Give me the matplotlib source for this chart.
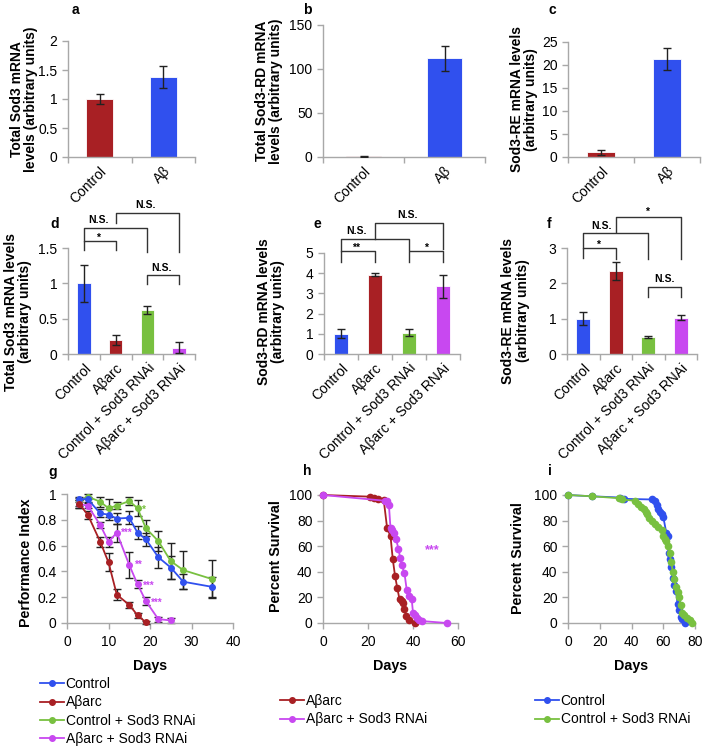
import matplotlib
matplotlib.use("Agg")
import matplotlib.pyplot as plt
from matplotlib.lines import Line2D
import numpy as np

plt.rcParams['font.family'] = ['Liberation Sans', 'DejaVu Sans']

BLUE = '#3050ee'
RED = '#a82024'
GREEN = '#78c040'
PURPLE = '#c848f0'
SPINE = '#a8a8a8'
FS = 10

# ---------------- data ----------------
cats_ab = ['Control', 'Aβ']
a_vals = [1.0, 1.38]; a_err = [0.08, 0.19]
b_vals = [1.0, 112.0]; b_err = [0.6, 14.0]
c_vals = [1.0, 21.4]; c_err = [0.5, 2.4]

cats_def = ['Control', 'Aβarc', 'Control + Sod3 RNAi', 'Aβarc + Sod3 RNAi']
d_vals = [1.0, 0.20, 0.62, 0.09]; d_err = [0.26, 0.07, 0.06, 0.08]
e_vals = [1.0, 3.92, 1.05, 3.35]; e_err = [0.22, 0.08, 0.17, 0.57]
f_vals = [1.0, 2.35, 0.48, 1.03]; f_err = [0.18, 0.25, 0.02, 0.08]

g_days = [3, 5, 8, 10, 12, 15, 17, 19, 22, 25, 28, 35]
g_ctrl = [0.96, 0.96, 0.85, 0.84, 0.81, 0.815, 0.70, 0.65, 0.51, 0.43, 0.32, 0.28]
g_ctrl_err = [0.02, 0.02, 0.03, 0.04, 0.04, 0.05, 0.05, 0.05, 0.08, 0.09, 0.06, 0.08]
g_csod = [0.94, 0.98, 0.94, 0.89, 0.91, 0.945, 0.89, 0.735, 0.635, 0.48, 0.41, 0.34]
g_csod_err = [0.03, 0.02, 0.04, 0.07, 0.03, 0.03, 0.06, 0.06, 0.08, 0.14, 0.15, 0.15]
g_abeta_days = [3, 5, 8, 10, 12, 15, 17, 19]
g_abeta = [0.92, 0.84, 0.63, 0.47, 0.22, 0.14, 0.06, 0.005]
g_abeta_err = [0.03, 0.03, 0.04, 0.07, 0.04, 0.02, 0.02, 0.01]
g_asod_days = [3, 5, 8, 10, 12, 15, 17, 19, 22, 25]
g_asod = [0.92, 0.91, 0.76, 0.63, 0.70, 0.45, 0.30, 0.17, 0.03, 0.02]
g_asod_err = [0.03, 0.02, 0.02, 0.04, 0.07, 0.10, 0.03, 0.03, 0.02, 0.02]

h_red_days = [0, 21, 22.5, 24.5, 27, 28.5, 30, 31, 32, 33, 34, 35, 35.7, 36.2, 37, 38, 41]
h_red = [100, 98.7, 98, 97, 96, 74, 68, 50, 37, 27.5, 18.5, 17.5, 16, 11, 5.5, 2, 0]
h_pur_days = [0, 27.5, 28.3, 29.3, 30, 30.7, 31.5, 32.5, 33.5, 34.3, 35, 36.2, 37.2,
              38.4, 39.4, 40, 40.8, 41.6, 42.6, 44, 55]
h_pur = [100, 95.5, 95, 92, 74, 72.5, 70.5, 65.5, 58, 51, 45, 39, 26, 21, 19, 8, 6, 4,
         2.5, 1.5, 0]

i_blue_days = [0, 15, 33, 35, 53, 55, 56, 57, 58, 59, 60, 62, 63, 63.5, 64, 65, 66, 67,
               68, 69, 70, 71, 72, 74]
i_blue = [100, 99, 98, 97, 96.5, 95, 92, 89, 87, 85, 83, 70, 68, 55, 50, 44, 35, 30, 25,
          15, 10, 5, 3, 0]
i_green_days = [0, 15, 32, 34, 42, 44, 46, 48, 49, 50, 51, 53, 55, 57, 59, 60, 61, 62, 63,
                64, 65, 66, 67, 68, 69, 70, 71, 72, 73, 75, 77, 78]
i_green = [100, 99, 97.5, 96.5, 95.5, 93, 91, 89, 87, 85, 82, 80, 77, 75, 72.5, 68, 66, 64,
           60, 55, 48, 40, 34, 28, 24, 20, 14, 8, 6, 4, 2, 0]

W, H = 704, 747
fig = plt.figure(figsize=(W / 100, H / 100), dpi=100)


def add_ax(x0, y_top, x1, y_bot):
    return fig.add_axes([x0 / W, 1 - y_bot / H, (x1 - x0) / W, (y_bot - y_top) / H])


def style(ax):
    for s in ['top', 'right']:
        ax.spines[s].set_visible(False)
    for s in ['left', 'bottom']:
        ax.spines[s].set_color(SPINE)
        ax.spines[s].set_linewidth(1.0)
    ax.tick_params(axis='both', which='both', color=SPINE, labelsize=FS, direction='out',
                   length=4, width=1.0)


def bar_panel(ax, cats, vals, errs, colors, ymax, ystep, ylabel, lab_xy, fmt=None):
    style(ax)
    x = np.arange(len(cats))
    ax.bar(x, vals, width=0.42, color=colors, edgecolor='white', linewidth=0.6, zorder=2)
    ax.errorbar(x, vals, yerr=errs, fmt='none', ecolor='#222222', elinewidth=1.0,
                capsize=3, capthick=1.0, zorder=3)
    ax.set_xlim(-0.5, len(cats) - 0.5)
    ax.set_ylim(0, ymax)
    ticks = np.arange(0, ymax + ystep / 2, ystep)
    ax.set_yticks(ticks)
    if fmt is not None:
        ax.set_yticklabels([fmt(t) for t in ticks])
    ax.set_xticks(x)
    ax.set_xticklabels(cats, rotation=45, ha='right', va='top', rotation_mode='anchor',
                       fontsize=FS)
    ax.tick_params(axis='x', which='major', length=0, pad=5)
    ax.set_xticks(np.arange(-0.5, len(cats), 1.0), minor=True)
    ax.tick_params(axis='x', which='minor', length=4)
    ax.set_ylabel(ylabel, fontsize=FS, fontweight='bold', linespacing=1.05)
    ax.yaxis.set_label_coords(*lab_xy)


def gfmt(t):
    return ('%g' % round(t, 2))


def bracket(ax, x1, x2, y1, top, y2, text, tx, ty, fs=7.5):
    ax.plot([x1, x1, x2, x2], [y1, top, top, y2], color='#333333', lw=1.0, clip_on=False,
            zorder=4)
    ax.text(tx, ty, text, ha='center', va='bottom', fontsize=fs, fontweight='bold',
            clip_on=False)


# ---------- row 1 ----------
axa = add_ax(68, 41, 195, 157)
bar_panel(axa, cats_ab, a_vals, a_err, [RED, BLUE], 2, 0.5,
          'Total Sod3 mRNA\nlevels (arbitrary units)', (-0.235, 0.5), gfmt)
axb = add_ax(323, 25, 485, 157)
bar_panel(axb, cats_ab, b_vals, b_err, [RED, BLUE], 150, 50,
          'Total Sod3-RD mRNA\nlevels (arbitrary units)', (-0.245, 0.5))
axc = add_ax(568, 42, 700, 157)
bar_panel(axc, cats_ab, c_vals, c_err, [RED, BLUE], 25, 5,
          'Sod3-RE mRNA levels\n(arbitrary units)', (-0.225, 0.5))

# ---------- row 2 ----------
cols4 = [BLUE, RED, GREEN, PURPLE]
axd = add_ax(68, 248, 195, 354)
bar_panel(axd, cats_def, d_vals, d_err, cols4, 1.5, 0.5,
          'Total Sod3 mRNA levels\n(arbitrary units)', (-0.28, 0.40), gfmt)
bracket(axd, 0, 1, 1.47, 1.60, 1.47, '*', 0.45, 1.58)
bracket(axd, 0, 2, 1.60, 1.78, 1.45, 'N.S.', 0.45, 1.83)
bracket(axd, 1, 3, 1.85, 2.0, 1.45, 'N.S.', 1.95, 2.04)
bracket(axd, 2, 3, 0.99, 1.12, 0.99, 'N.S.', 2.45, 1.15)

axe = add_ax(324, 253, 460, 354)
bar_panel(axe, cats_def, e_vals, e_err, cols4, 5, 1, 'Sod3-RD mRNA levels\n(arbitrary units)',
          (-0.285, 0.42))
bracket(axe, 0, 1, 4.55, 5.1, 4.55, '**', 0.45, 5.0)
bracket(axe, 0, 2, 5.1, 5.7, 5.15, 'N.S.', 0.45, 5.85)
bracket(axe, 1, 3, 5.7, 6.5, 5.2, 'N.S.', 1.95, 6.65)
bracket(axe, 2, 3, 4.55, 5.1, 4.55, '*', 2.5, 5.0)

axf = add_ax(567, 248, 697, 354)
bar_panel(axf, cats_def, f_vals, f_err, cols4, 3, 1, 'Sod3-RE mRNA levels\n(arbitrary units)',
          (-0.285, 0.41))
bracket(axf, 0, 1, 2.72, 3.0, 2.7, '*', 0.45, 2.95)
bracket(axf, 0, 2, 3.0, 3.42, 2.7, 'N.S.', 0.55, 3.48)
bracket(axf, 1, 3, 3.45, 3.87, 2.7, '*', 1.95, 3.88)
bracket(axf, 2, 3, 1.6, 1.9, 1.6, 'N.S.', 2.5, 1.98)


# ---------- row 3 ----------
def line_style(ax, xmax, xstep, ymax, ystep, ylabel, lab_xy, fmt=None):
    style(ax)
    ax.set_xlim(0, xmax)
    ax.set_ylim(0, ymax)
    ax.set_xticks(np.arange(0, xmax + 1e-9, xstep))
    yt = np.arange(0, ymax + ystep / 2, ystep)
    ax.set_yticks(yt)
    if fmt is not None:
        ax.set_yticklabels([fmt(t) for t in yt])
    ax.tick_params(axis='x', pad=5)
    ax.set_xlabel('Days', fontsize=10.3, fontweight='bold')
    ax.xaxis.set_label_coords(0.5, -0.28)
    ax.set_ylabel(ylabel, fontsize=10.3, fontweight='bold')
    ax.yaxis.set_label_coords(*lab_xy)


axg = add_ax(67, 494, 233, 623)
line_style(axg, 40, 10, 1, 0.2, 'Performance Index', (-0.205, 0.47), gfmt)
for dd, vv, ee, cc in [(g_days, g_csod, g_csod_err, GREEN), (g_days, g_ctrl, g_ctrl_err, BLUE),
                       (g_asod_days, g_asod, g_asod_err, PURPLE),
                       (g_abeta_days, g_abeta, g_abeta_err, RED)]:
    axg.errorbar(dd, vv, yerr=ee, fmt='none', ecolor='#222222', elinewidth=1.0, capsize=3,
                 capthick=1.0, zorder=2, clip_on=False)
    axg.plot(dd, vv, '-o', color=cc, ms=4, lw=1.3, zorder=3, clip_on=False)
for tx, ty, t in [(14.3, 0.70, '***'), (17.2, 0.45, '**'), (19.7, 0.29, '***'),
                  (21.6, 0.16, '***')]:
    axg.text(tx, ty, t, color=PURPLE, fontsize=7, fontweight='bold', ha='center', va='center')
axg.text(18.4, 0.88, '*', color=GREEN, fontsize=7, fontweight='bold', ha='center',
         va='center')

axh = add_ax(323, 495, 458, 623)
line_style(axh, 60, 20, 100, 20, 'Percent Survival', (-0.296, 0.52))
axh.plot(h_red_days, h_red, '-o', color=RED, ms=4.5, lw=1.3, clip_on=False, zorder=3)
axh.plot(h_pur_days, h_pur, '-o', color=PURPLE, ms=4.5, lw=1.3, clip_on=False, zorder=3)
axh.text(48.7, 57, '***', color=PURPLE, fontsize=9, fontweight='bold', ha='center',
         va='center')

axi = add_ax(568, 495, 695, 623)
line_style(axi, 80, 20, 100, 20, 'Percent Survival', (-0.34, 0.51))
axi.plot(i_blue_days, i_blue, '-o', color=BLUE, ms=4.5, lw=1.3, clip_on=False, zorder=3)
axi.plot(i_green_days, i_green, '-o', color=GREEN, ms=4.5, lw=1.3, clip_on=False, zorder=3)

# ---------- panel letters ----------
for lx, ly, t in [(75, 10, 'a'), (307, 10, 'b'), (552, 10, 'c'), (55, 224, 'd'),
                  (317, 224, 'e'), (549, 224, 'f'), (53, 472, 'g'), (307, 471, 'h'),
                  (550, 471, 'i')]:
    fig.text(lx / W, 1 - ly / H, t, fontsize=10, fontweight='bold', ha='center', va='center')


# ---------- legends ----------
def handle(c):
    return Line2D([], [], color=c, marker='o', ms=4, lw=1.3)


leg_kw = dict(frameon=False, fontsize=FS, handlelength=1.7, handletextpad=0.15,
              labelspacing=0.32, borderpad=0, borderaxespad=0, loc='upper left')
fig.legend([handle(BLUE), handle(RED), handle(GREEN), handle(PURPLE)], cats_def,
           bbox_to_anchor=(40 / W, 1 - 677 / H), **leg_kw)
fig.legend([handle(RED), handle(PURPLE)], ['Aβarc', 'Aβarc + Sod3 RNAi'],
           bbox_to_anchor=(280 / W, 1 - 694 / H), **leg_kw)
fig.legend([handle(BLUE), handle(GREEN)], ['Control', 'Control + Sod3 RNAi'],
           bbox_to_anchor=(535 / W, 1 - 694 / H), **leg_kw)

fig.savefig('out.png', dpi=100)
